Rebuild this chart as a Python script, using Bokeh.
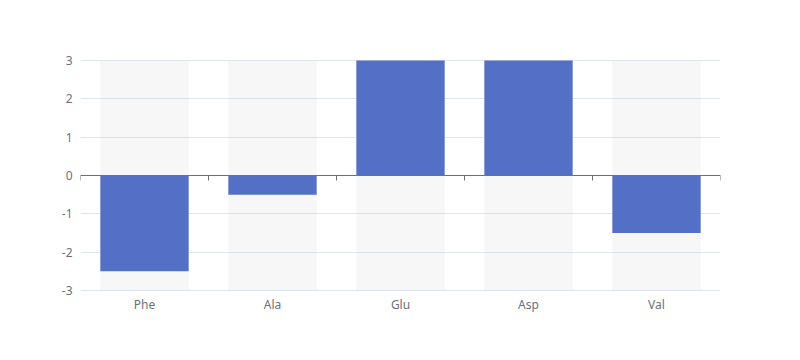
import math
from bokeh.plotting import figure
from bokeh.models import FixedTicker, Range1d, ColumnDataSource
from bokeh.embed import file_html
from bokeh.resources import INLINE

categories = ["Phe", "Ala", "Glu", "Asp", "Val"]
values = [-2.5, -0.5, 3, 3, -1.5]
y_ticks = [-3, -2, -1, 0, 1, 2, 3]
y_min, y_max = -3, 3

xs = [i + 0.5 for i in range(len(categories))]
bounds = list(range(len(categories) + 1))

pad = 0.026
p = figure(width=784, height=344, frame_width=640, frame_height=232,
           min_border_left=80, min_border_right=64, min_border_top=59, min_border_bottom=53,
           x_range=Range1d(0, len(categories)), y_range=Range1d(y_min - pad, y_max + pad),
           output_backend="svg", toolbar_location=None, tools="")
p.outline_line_color = None
p.background_fill_color = "white"
p.border_fill_color = "white"

src = ColumnDataSource(dict(x=xs, v=values, top=[y_max] * len(xs), bot=[y_min] * len(xs)))
p.vbar(x="x", width=0.69, top="top", bottom="bot", source=src,
       fill_color="#b4b4b4", fill_alpha=0.1, line_color=None)
p.vbar(x="x", width=0.69, top="v", bottom=0, source=src,
       fill_color="#5470c6", line_color=None)

# zero axis line + ticks
p.line(x=[bounds[0], bounds[-1]], y=[0, 0], line_color="#6E7079", line_width=1)
p.ray(x=bounds, y=[0] * len(bounds), length=5, length_units="screen",
      angle=-math.pi / 2, line_color="#6E7079", line_width=1)

p.xgrid.visible = False
p.ygrid.grid_line_color = "#E0E6F1"
p.ygrid.ticker = FixedTicker(ticks=y_ticks)

p.yaxis.ticker = FixedTicker(ticks=y_ticks)
p.yaxis.major_label_overrides = {t: str(t) for t in y_ticks}
p.yaxis.axis_line_color = None
p.yaxis.major_tick_line_color = None
p.yaxis.minor_tick_line_color = None
p.yaxis.major_tick_out = 0
p.yaxis.major_tick_in = 0
p.yaxis.major_label_standoff = 8
p.yaxis.major_label_text_color = "#6E7079"
p.yaxis.major_label_text_font = "Noto Sans"
p.yaxis.major_label_text_font_size = "12px"

p.xaxis.ticker = FixedTicker(ticks=xs)
p.xaxis.major_label_overrides = {x: c for x, c in zip(xs, categories)}
p.xaxis.axis_line_color = None
p.xaxis.major_tick_line_color = None
p.xaxis.minor_tick_line_color = None
p.xaxis.major_tick_out = 0
p.xaxis.major_tick_in = 0
p.xaxis.major_label_standoff = 4
p.xaxis.major_label_text_color = "#6E7079"
p.xaxis.major_label_text_font = "Noto Sans"
p.xaxis.major_label_text_font_size = "12px"

open("out.html", "w").write(file_html(p, INLINE))
